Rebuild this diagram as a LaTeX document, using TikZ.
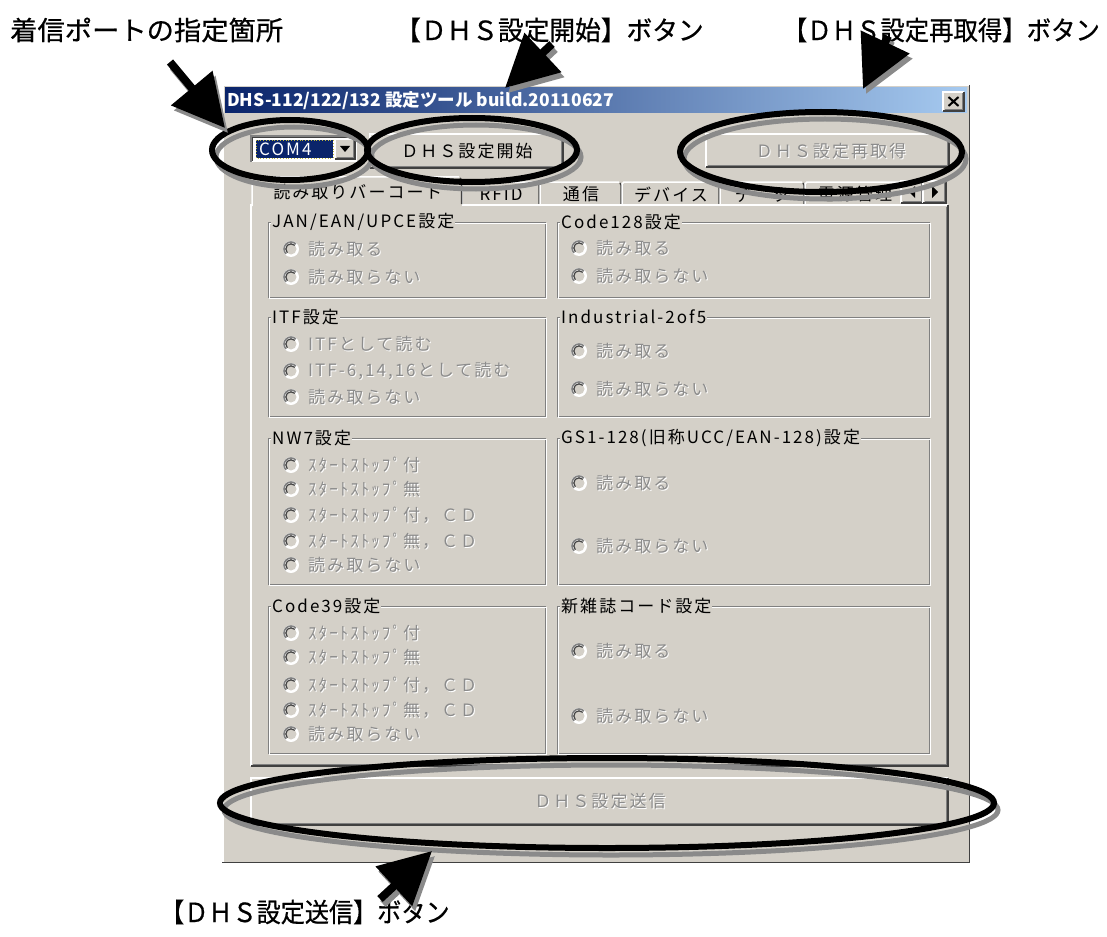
\documentclass[tikz,border=0pt]{standalone}
\usepackage{fontspec}
\setmainfont{Noto Sans CJK JP}
\newfontfamily\uifont{Noto Sans CJK JP}[LetterSpace=12.0]
\newfontfamily\lblfont{Noto Sans CJK JP}[FakeBold=0.6]
\usetikzlibrary{arrows.meta,shapes.geometric}
\definecolor{winbg}{HTML}{D4D0C8}
\definecolor{dgray}{HTML}{808080}
\definecolor{ddgray}{HTML}{404040}
\definecolor{tbdark}{HTML}{0A246A}
\definecolor{tblight}{HTML}{A6CAF0}
\definecolor{distext}{HTML}{8C8C8C}
\definecolor{shadowgray}{HTML}{8A8A8A}
\newcommand\raisedbox[4]{%
  \fill[winbg] (#1,#2) rectangle (#3,#4);
  \draw[white,line width=1.5pt] (#1,#4) -- (#1,#2) -- (#3,#2);
  \draw[ddgray,line width=1.5pt] (#1,#4) -- (#3,#4) -- (#3,#2);
  \draw[dgray,line width=1pt] (#1+1.5,#4-1.5) -- (#3-1.5,#4-1.5) -- (#3-1.5,#2+1.5);
}
\newcommand\grpbox[5]{%
  \draw[dgray,line width=1pt] (#1,#2) rectangle (#3,#4);
  \draw[white,line width=1pt] (#1+1.2,#2+1.2) rectangle (#3+1.2,#4+1.2);
  \node[uitext,fill=winbg,inner xsep=1pt,anchor=west] at (#1+3,#2) {#5};
}
\newcommand\radio[3]{%
  \fill[white] (#1,#2) circle[radius=8];
  \fill[winbg] (#1,#2) circle[radius=5.5];
  \draw[dgray,line width=1.6pt] (#1,#2) ++(135:7) arc[start angle=135,end angle=315,radius=7];
  \draw[ddgray,line width=1.2pt] (#1,#2) ++(135:5.2) arc[start angle=135,end angle=315,radius=5.2];
  \node[uitext,text=white,anchor=west] at (#1+18,#2+1) {#3};
  \node[uitext,text=distext,anchor=west] at (#1+17,#2) {#3};
}
\newcommand\tabbox[3]{%
  \fill[winbg] (#1,182) rectangle (#2,205);
  \draw[white,line width=1.5pt] (#1,205) -- (#1,184) -- (#1+2,182) -- (#2-3,182);
  \draw[ddgray,line width=1.5pt] (#2-2,183) -- (#2-1,185) -- (#2-1,205);
  \node[uitext] at ({(#1+#2)/2},194.5) {#3};
}
\begin{document}
\begin{tikzpicture}[x=1pt,y=-1pt,
  uitext/.style={font=\uifont\fontsize{17}{17}\selectfont,inner sep=0pt},
  distxt/.style={uitext,text=distext},
  titletext/.style={font=\bfseries\fontsize{17.5}{17.5}\selectfont,text=white,inner sep=0pt},
  lbl/.style={font=\lblfont\fontsize{26.5}{26.5}\selectfont,inner sep=0pt},
  ring/.style={ellipse,draw=black,line width=6pt,inner sep=0pt},
  ringshadow/.style={ellipse,draw=shadowgray,line width=5pt,inner sep=0pt},
  bigarrow/.style={draw=black,line width=8pt,-{Triangle[length=52pt,width=52pt]}},
  bigarrowsh/.style={draw=shadowgray,line width=8pt,-{Triangle[length=52pt,width=52pt]},transform canvas={shift={(3,5)}}}
]
\useasboundingbox (0,0) rectangle (1107,936);
\fill[white] (0,0) rectangle (1107,936);

% window frame
\fill[winbg] (222,85) rectangle (970,863);
\draw[white,line width=1.5pt] (222.75,862) -- (222.75,85.75) -- (969,85.75);
\draw[ddgray,line width=1.5pt] (222,862.25) -- (969.25,862.25) -- (969.25,85);
\shade[left color=tbdark,right color=tblight] (225,88) rectangle (967,113);
\node[titletext,anchor=west] (title) at (227,100.5) {DHS-112/122/132 設定ツール build.20110627};
\raisedbox{943}{92}{964}{111}
\draw[black,line width=2pt] (948.5,97) -- (958.5,106) (958.5,97) -- (948.5,106);

% combobox
\fill[white] (251,136) rectangle (357,162);
\draw[dgray,line width=1.2pt] (251,162) -- (251,136) -- (357,136);
\draw[ddgray,line width=1.2pt] (252.5,161) -- (252.5,137.5) -- (356,137.5);
\fill[tbdark] (256,140) rectangle (333,158);
\draw[yellow!70!black,dotted,line width=0.8pt] (256,140) rectangle (333,158);
\node[uitext,text=white,anchor=west] (com) at (259,149) {COM4};
\raisedbox{335}{139}{355}{159}
\fill[black] (340,146) -- (350,146) -- (345,152) -- cycle;

% top buttons
\raisedbox{370}{134}{563}{168}
\node[uitext] (bstart) at (467,151) {ＤＨＳ設定開始};
\raisedbox{706}{134}{949}{167}
\node[distxt,text=white] at (832,152) {ＤＨＳ設定再取得};
\node[distxt] (breget) at (831,151) {ＤＨＳ設定再取得};

% tabs
\tabbox{462}{540}{RFID}
\tabbox{540}{622}{通信}
\tabbox{622}{720}{デバイス}
\tabbox{720}{805}{データ}
\tabbox{805}{905}{電源管理}
\raisedbox{901}{181}{923}{203}
\fill[black] (915,186) -- (915,198) -- (909,192) -- cycle;
\raisedbox{923}{181}{946}{203}
\fill[black] (932,186) -- (932,198) -- (938,192) -- cycle;

% tab panel
\fill[winbg] (251,205) rectangle (948,766);
\draw[white,line width=1.5pt] (251,766) -- (251,205) -- (948,205);
\draw[ddgray,line width=1.5pt] (251,766) -- (948,766) -- (948,205);
\draw[dgray,line width=1pt] (252.5,764.5) -- (946.5,764.5) -- (946.5,206.5);
% selected tab
\fill[winbg] (252,177) rectangle (462,206.5);
\draw[white,line width=1.5pt] (252,206) -- (252,179) -- (254,177) -- (459,177);
\draw[ddgray,line width=1.5pt] (460,178) -- (461.5,180) -- (461.5,204);
\node[uitext] (tabsel) at (358,192) {読み取りバーコード};

% groups
\grpbox{268}{222}{545}{297}{JAN/EAN/UPCE設定}
\radio{291}{249}{読み取る}
\radio{291}{277}{読み取らない}
\grpbox{557}{222}{929}{297}{Code128設定}
\radio{579}{248}{読み取る}
\radio{579}{276}{読み取らない}
\grpbox{268}{317}{545}{416}{ITF設定}
\radio{291}{344}{ITFとして読む}
\radio{291}{371}{ITF-6,14,16として読む}
\radio{291}{397}{読み取らない}
\grpbox{557}{317}{929}{416}{Industrial-2of5}
\radio{579}{351}{読み取る}
\radio{579}{389}{読み取らない}
\grpbox{268}{438}{545}{584}{NW7設定}
\radio{291}{465}{ｽﾀｰﾄｽﾄｯﾌﾟ付}
\radio{291}{489}{ｽﾀｰﾄｽﾄｯﾌﾟ無}
\radio{291}{515}{ｽﾀｰﾄｽﾄｯﾌﾟ付，ＣＤ}
\radio{291}{541}{ｽﾀｰﾄｽﾄｯﾌﾟ無，ＣＤ}
\radio{291}{565}{読み取らない}
\grpbox{557}{438}{929}{584}{GS1-128(旧称UCC/EAN-128)設定}
\radio{579}{483}{読み取る}
\radio{579}{546}{読み取らない}
\grpbox{268}{606}{545}{753}{Code39設定}
\radio{291}{633}{ｽﾀｰﾄｽﾄｯﾌﾟ付}
\radio{291}{657}{ｽﾀｰﾄｽﾄｯﾌﾟ無}
\radio{291}{685}{ｽﾀｰﾄｽﾄｯﾌﾟ付，ＣＤ}
\radio{291}{710}{ｽﾀｰﾄｽﾄｯﾌﾟ無，ＣＤ}
\radio{291}{734}{読み取らない}
\grpbox{557}{606}{929}{753}{新雑誌コード設定}
\radio{579}{651}{読み取る}
\radio{579}{716}{読み取らない}

% send button
\raisedbox{251}{778}{948}{825}
\node[distxt,text=white] at (601,802) {ＤＨＳ設定送信};
\node[distxt] (bsend) at (600,801) {ＤＨＳ設定送信};

% ellipses
\node[ringshadow,minimum width=156pt,minimum height=60pt] at (294,157) {};
\node[ringshadow,minimum width=210pt,minimum height=64pt] at (476,157) {};
\node[ringshadow,minimum width=282pt,minimum height=80pt] at (825,159) {};
\node[ringshadow,minimum width=774pt,minimum height=90pt] at (611,810) {};
\node[ring,minimum width=156pt,minimum height=60pt] (e1) at (290,150) {};
\node[ring,minimum width=210pt,minimum height=64pt] (e2) at (472,150) {};
\node[ring,minimum width=282pt,minimum height=80pt] (e3) at (821,152) {};
\node[ring,minimum width=774pt,minimum height=90pt] (e4) at (607,803) {};

% labels
\node[lbl,xscale=1.03,anchor=west] (l1) at (10,30) {着信ポートの指定箇所};
\node[lbl,xscale=0.97,anchor=west] (l2) at (395,30) {【ＤＨＳ設定開始】ボタン};
\node[lbl,xscale=0.92,anchor=east] (l3) at (1100,30) {【ＤＨＳ設定再取得】ボタン};
\node[lbl,xscale=0.91,anchor=west] (l4) at (160,912) {【ＤＨＳ設定送信】ボタン};

% arrows
\coordinate (a1s) at (170,62);  \coordinate (a1e) at (225,128);
\coordinate (a2s) at (552,44);  \coordinate (a2e) at (505,88);
\coordinate (a3s) at (888,36);  \coordinate (a3e) at (863,89);
\coordinate (a4s) at (380,899); \coordinate (a4e) at (432,851);
\draw[bigarrowsh] (a1s) -- (a1e);
\draw[bigarrowsh] (a2s) -- (a2e);
\draw[bigarrowsh] (a3s) -- (a3e);
\draw[bigarrowsh] (a4s) -- (a4e);
\draw[bigarrow] (a1s) -- (a1e);
\draw[bigarrow] (a2s) -- (a2e);
\draw[bigarrow] (a3s) -- (a3e);
\draw[bigarrow] (a4s) -- (a4e);
\end{tikzpicture}
\end{document}
